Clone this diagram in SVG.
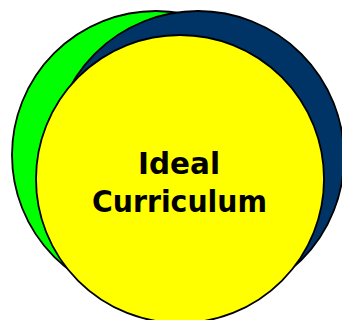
<svg xmlns="http://www.w3.org/2000/svg" width="342" height="320" viewBox="0 0 342 320">
  <style>
    .ring { stroke: #000000; stroke-width: 1.8; }
    .label { font-family: "DejaVu Sans", Verdana, sans-serif; font-weight: bold; font-size: 30px; fill: #000000; text-anchor: middle; }
  </style>
  <rect width="342" height="320" fill="#ffffff"/>
  <g id="circle-green">
    <circle class="ring" cx="156" cy="155" r="144" fill="#00ff00"/>
  </g>
  <g id="circle-blue">
    <circle class="ring" cx="198" cy="157" r="146" fill="#003366"/>
  </g>
  <g id="circle-ideal">
    <circle class="ring" cx="180" cy="179" r="144" fill="#ffff00"/>
    <text class="label" x="179" y="174" textLength="82" lengthAdjust="spacingAndGlyphs">Ideal</text>
    <text class="label" x="179.5" y="212" textLength="175" lengthAdjust="spacingAndGlyphs">Curriculum</text>
  </g>
  <g id="connectors"></g>
</svg>
